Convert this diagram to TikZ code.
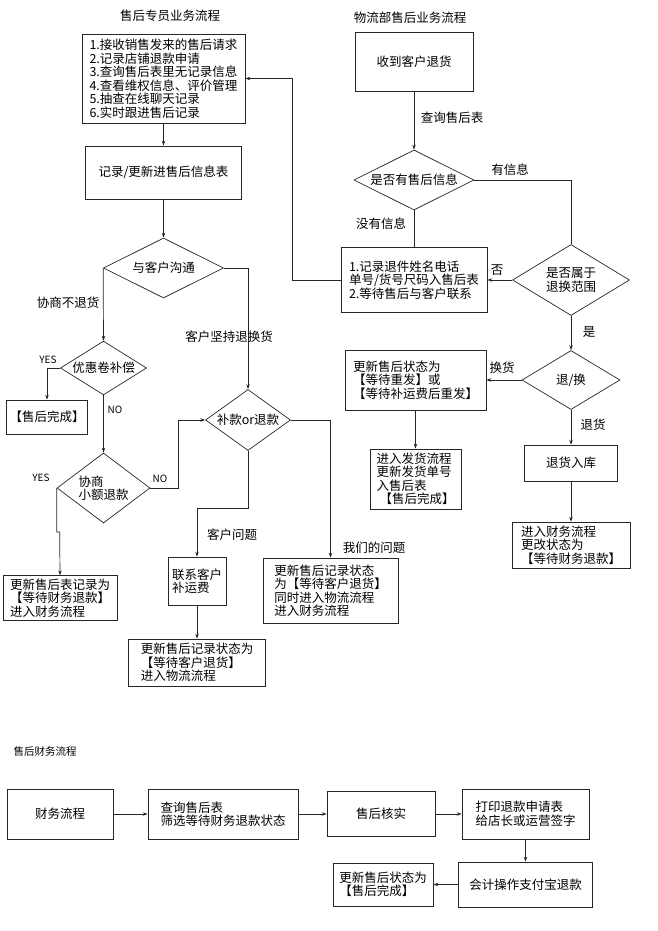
\documentclass[tikz,border=0pt]{standalone}
\usepackage{fontspec}
\usetikzlibrary{positioning,arrows.meta,shapes.geometric}
\newfontfamily\cjk{Noto Sans CJK SC}
\definecolor{wire}{HTML}{262626}

\begin{document}
\begin{tikzpicture}[x=1pt,y=-1pt,line width=.7pt,draw=wire,
  every node/.style={font=\cjk\fontsize{12.5}{13.5}\selectfont,text=black},
  box/.style={draw=wire,rectangle,inner sep=3pt,align=left},
  dec/.style={draw=wire,diamond,inner sep=1pt,aspect=1.6,align=center},
  arr/.style={-{Stealth[length=5pt,width=3.5pt]}},
  lbl/.style={inner sep=1pt},yn/.style={inner sep=1pt,font=\cjk\fontsize{10}{12}\selectfont}]
\useasboundingbox (0,0) rectangle (658,931);
% titles
\node (t1) at (170,16) {售后专员业务流程};
\node (t2) at (410,18) {物流部售后业务流程};
\node[font=\cjk\fontsize{10.5}{12}\selectfont] (t3) at (45,752) {售后财务流程};
% after-sales staff
\node[box,minimum width=163,minimum height=89] (req) at (163.5,78.5) {1.接收销售发来的售后请求\\2.记录店铺退款申请\\3.查询售后表里无记录信息\\4.查看维权信息、评价管理\\5.抽查在线聊天记录\\6.实时跟进售后记录};
\node[box,minimum width=156,minimum height=53] (rec) at (163.5,172.5) {记录/更新进售后信息表};
\node[dec,aspect=2,minimum width=120,minimum height=60] (talk) at (163.5,268) {与客户沟通};
\node[dec,minimum width=85,minimum height=53] (coupon) at (103.5,368) {优惠卷补偿};
\node[box,minimum width=74,minimum height=34] (done1) at (47,417) {【售后完成】};
\node[dec,aspect=1.33,minimum width=93,minimum height=70,align=left] (small) at (103.5,488) {协商\\小额退款};
\node[box,minimum width=114,minimum height=44] (fin1) at (60,598) {更新售后表记录为\\【等待财务退款】\\进入财务流程};
\node[dec,aspect=1.4,minimum width=85,minimum height=61] (pay) at (248,420) {补款or退款};
\node[box,minimum width=58,minimum height=48] (contact) at (197,581) {联系客户\\补运费};
\node[box,minimum width=137,minimum height=47] (wait1) at (197,662.5) {更新售后记录状态为\\【等待客户退货】\\进入物流流程};
\node[box,minimum width=135,minimum height=65] (our) at (330.5,590.5) {更新售后记录状态\\为【等待客户退货】\\同时进入物流流程\\进入财务流程};
% logistics
\node[box,minimum width=118,minimum height=59] (recv) at (414,61.5) {收到客户退货};
\node[dec,aspect=2,minimum width=120,minimum height=60] (has) at (414,180) {是否有售后信息};
\node[box,minimum width=146,minimum height=65] (log) at (414,280) {1.记录退件姓名电话\\单号/货号尺码入售后表\\2.等待售后与客户联系};
\node[dec,aspect=1.65,minimum width=117,minimum height=71] (range) at (571,280) {是否属于\\退换范围};
\node[dec,minimum width=98,minimum height=59] (swap) at (571,380) {退/换};
\node[box,minimum width=141,minimum height=60] (resend) at (415.5,380) {更新售后状态为\\【等待重发】或\\【等待补运费后重发】};
\node[box,minimum width=91,minimum height=60] (ship) at (415.5,479) {进入发货流程\\更新发货单号\\入售后表\\\hspace{3pt}【售后完成】};
\node[box,minimum width=93,minimum height=36] (stock) at (571,463) {退货入库};
\node[box,minimum width=118,minimum height=46] (fin2) at (571,545) {进入财务流程\\更改状态为\\【等待财务退款】};
% finance
\node[box,minimum width=106,minimum height=50] (fin) at (60,814) {财务流程};
\node[box,minimum width=150,minimum height=50] (query) at (223,814) {查询售后表\\筛选等待财务退款状态};
\node[box,minimum width=108,minimum height=45] (check) at (381,814) {售后核实};
\node[box,minimum width=127,minimum height=50] (print) at (525.5,814) {打印退款申请表\\给店长或运营签字};
\node[box,minimum width=134,minimum height=45] (alipay) at (525.5,884.5) {会计操作支付宝退款};
\node[box,minimum width=100,minimum height=43] (done2) at (383,884.5) {更新售后状态为\\【售后完成】};
% labels
\node[lbl] (lbNoRet) at (68,303) {协商不退货};
\node[yn] (lbYes1) at (48,360) {YES};
\node[yn] (lbNo1) at (115,410) {NO};
\node[yn] (lbYes2) at (41,478) {YES};
\node[yn] (lbNo2) at (160,479) {NO};
\node[lbl] (lbKeep) at (229,337) {客户坚持退换货};
\node[lbl] (lbCust) at (232,535) {客户问题};
\node[lbl] (lbOurs) at (374,548) {我们的问题};
\node[lbl] (lbQuery) at (452,118) {查询售后表};
\node[lbl] (lbHas) at (510,170) {有信息};
\node[lbl] (lbNone) at (381,224) {没有信息};
\node[lbl] (lbNo3) at (497,270) {否};
\node[lbl] (lbYes3) at (589,332) {是};
\node[lbl] (lbSwap) at (502,368) {换货};
\node[lbl] (lbBack) at (593,425) {退货};
% connectors
\foreach \a/\b in {req/rec,rec/talk,coupon/small,contact/wait1,recv/has,range/swap,resend/ship,swap/stock,stock/fin2,print/alipay,fin/query,query/check,check/print,alipay/done2,range/log,swap/resend}{\draw[arr] (\a) -- (\b);}
\draw[arr] (talk.west) -- (coupon.north);
\draw[arr] (coupon.west) -| (done1.north);
\draw[arr] (small.west) -- ++(0,44) -- ++(3,0) -- (fin1.north);
\draw[arr] (small.east) -- ++(28,0) |- (pay.west);
\draw[arr] (talk.east) -| (pay.north);
\draw[arr] (pay.east) -| (our.north);
\draw[arr] (pay.south) -- ++(0,57) -| (contact.north);
\draw (has.east) -| (range.north);
\draw (has.south) -- (log.north);
\draw[arr] (log.west) -- ++(-48,0) |- (req.east);
\end{tikzpicture}
\end{document}
